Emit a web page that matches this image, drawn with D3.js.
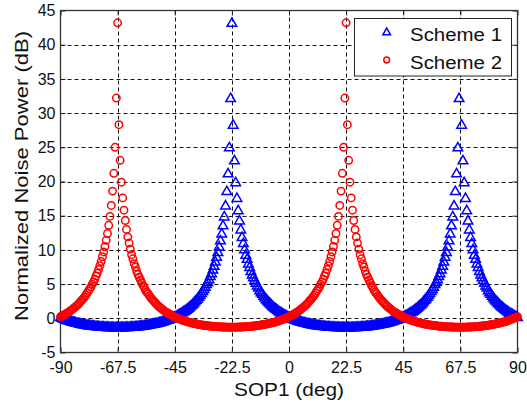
<!DOCTYPE html>
<html><head><meta charset="utf-8">
<script src="https://cdn.jsdelivr.net/npm/d3@7"></script>
<style>html,body{margin:0;padding:0;background:#fff;} svg{display:block;font-family:"Liberation Sans",Arial,sans-serif;}</style>
</head><body><svg id="c" width="527" height="405"></svg>
<script>
// SOP1 sample angles (deg): -90 .. 90, step 0.5
const sopDeg = d3.range(-180, 181).map(i => i / 2);
const xTicks = [-90, -67.5, -45, -22.5, 0, 22.5, 45, 67.5, 90];
const xTickLabels = ["-90", "-67.5", "-45", "-22.5", "0", "22.5", "45", "67.5", "90"];
const yTicks = [-5, 0, 5, 10, 15, 20, 25, 30, 35, 40, 45];
const seriesNames = ["Scheme 1", "Scheme 2"];

// Normalized noise power (dB), Scheme 1
const scheme1 = [
// -90 .. -68
0.19,0.10,0.02,-0.06,-0.13,-0.20,-0.27,-0.33,-0.39,-0.45,-0.50,-0.56,-0.61,-0.66,-0.70,-0.75,-0.79,-0.83,-0.87,-0.90,-0.93,-0.97,-1.00,-1.02,-1.05,-1.07,-1.09,-1.12,-1.14,-1.16,-1.17,-1.19,-1.21,-1.22,-1.23,-1.25,-1.26,-1.27,-1.27,-1.28,-1.29,-1.29,-1.30,-1.30,-1.30,
// -67.5 .. -23
-1.30,-1.30,-1.30,-1.30,-1.29,-1.29,-1.28,-1.27,-1.27,-1.26,
-1.25,-1.23,-1.22,-1.21,-1.19,-1.17,-1.16,-1.13,-1.11,-1.09,
-1.06,-1.04,-1.01,-0.98,-0.95,-0.91,-0.88,-0.85,-0.81,-0.77,
-0.73,-0.68,-0.64,-0.59,-0.54,-0.48,-0.43,-0.37,-0.30,-0.23,
-0.16,-0.10,-0.02,0.06,0.14,0.23,0.32,0.42,0.52,0.63,
0.75,0.87,0.99,1.12,1.26,1.40,1.56,1.72,1.89,2.05,
2.25,2.5,2.7,2.9,3.15,3.4,3.7,4.0,4.3,4.6,
5.0,5.3,5.7,6.2,6.6,7.15,7.7,8.3,9.0,9.7,
10.5,11.4,12.4,13.6,14.9,16.5,18.6,21.2,25.0,32.2,
// -22.5 .. 22
43.2,28.3,23.1,19.9,17.6,15.8,14.3,13.0,11.9,11.0,
10.1,9.3,8.7,8.0,7.5,6.9,6.4,6.0,5.6,5.2,
4.8,4.5,4.1,3.8,3.6,3.3,3.05,2.8,2.6,2.4,
2.2,2.0,1.8,1.65,1.5,1.35,1.2,1.05,0.93,0.81,
0.70,0.59,0.48,0.38,0.28,
0.19,0.10,0.02,-0.06,-0.13,-0.20,-0.27,-0.33,-0.39,-0.45,-0.50,-0.56,-0.61,-0.66,-0.70,-0.75,-0.79,-0.83,-0.87,-0.90,-0.93,-0.97,-1.00,-1.02,-1.05,-1.07,-1.09,-1.12,-1.14,-1.16,-1.17,-1.19,-1.21,-1.22,-1.23,-1.25,-1.26,-1.27,-1.27,-1.28,-1.29,-1.29,-1.30,-1.30,-1.30,
// 22.5 .. 67
-1.30,-1.30,-1.30,-1.30,-1.29,-1.29,-1.28,-1.27,-1.27,-1.26,
-1.25,-1.23,-1.22,-1.21,-1.19,-1.17,-1.16,-1.13,-1.11,-1.09,
-1.06,-1.04,-1.01,-0.98,-0.95,-0.91,-0.88,-0.85,-0.81,-0.77,
-0.73,-0.68,-0.64,-0.59,-0.54,-0.48,-0.43,-0.37,-0.30,-0.23,
-0.16,-0.10,-0.02,0.06,0.14,0.23,0.32,0.42,0.52,0.63,
0.75,0.87,0.99,1.12,1.26,1.40,1.56,1.72,1.89,2.05,
2.25,2.5,2.7,2.9,3.15,3.4,3.7,4.0,4.3,4.6,
5.0,5.3,5.7,6.2,6.6,7.15,7.7,8.3,9.0,9.7,
10.5,11.4,12.4,13.6,14.9,16.5,18.6,21.2,25.0,32.2,
// 67.5 (not shown)
null,
// 68 .. 90
28.3,23.1,19.9,17.6,15.8,14.3,13.0,11.9,11.0,
10.1,9.3,8.7,8.0,7.5,6.9,6.4,6.0,5.6,5.2,
4.8,4.5,4.1,3.8,3.6,3.3,3.05,2.8,2.6,2.4,
2.2,2.0,1.8,1.65,1.5,1.35,1.2,1.05,0.93,0.81,
0.70,0.59,0.48,0.38,0.28,0.19
];

// Normalized noise power (dB), Scheme 2
const scheme2 = [
// -90 .. -68
0.23,0.32,0.42,0.52,0.63,
0.75,0.87,0.99,1.12,1.26,1.40,1.56,1.72,1.89,2.05,
2.25,2.5,2.7,2.9,3.15,3.4,3.7,4.0,4.3,4.6,
5.0,5.3,5.7,6.2,6.6,7.15,7.7,8.3,9.0,9.7,
10.5,11.4,12.4,13.6,14.9,16.5,18.6,21.2,25.0,32.2,
// -67.5 .. -23
43.2,28.3,23.1,19.9,17.6,15.8,14.3,13.0,11.9,11.0,
10.1,9.3,8.7,8.0,7.5,6.9,6.4,6.0,5.6,5.2,
4.8,4.5,4.1,3.8,3.6,3.3,3.05,2.8,2.6,2.4,
2.2,2.0,1.8,1.65,1.5,1.35,1.2,1.05,0.93,0.81,
0.70,0.59,0.48,0.38,0.28,
0.19,0.10,0.02,-0.06,-0.13,-0.20,-0.27,-0.33,-0.39,-0.45,-0.50,-0.56,-0.61,-0.66,-0.70,-0.75,-0.79,-0.83,-0.87,-0.90,-0.93,-0.97,-1.00,-1.02,-1.05,-1.07,-1.09,-1.12,-1.14,-1.16,-1.17,-1.19,-1.21,-1.22,-1.23,-1.25,-1.26,-1.27,-1.27,-1.28,-1.29,-1.29,-1.30,-1.30,-1.30,
// -22.5 .. 22
-1.30,-1.30,-1.30,-1.30,-1.29,-1.29,-1.28,-1.27,-1.27,-1.26,
-1.25,-1.23,-1.22,-1.21,-1.19,-1.17,-1.16,-1.13,-1.11,-1.09,
-1.06,-1.04,-1.01,-0.98,-0.95,-0.91,-0.88,-0.85,-0.81,-0.77,
-0.73,-0.68,-0.64,-0.59,-0.54,-0.48,-0.43,-0.37,-0.30,-0.23,
-0.16,-0.10,-0.02,0.06,0.14,0.23,0.32,0.42,0.52,0.63,
0.75,0.87,0.99,1.12,1.26,1.40,1.56,1.72,1.89,2.05,
2.25,2.5,2.7,2.9,3.15,3.4,3.7,4.0,4.3,4.6,
5.0,5.3,5.7,6.2,6.6,7.15,7.7,8.3,9.0,9.7,
10.5,11.4,12.4,13.6,14.9,16.5,18.6,21.2,25.0,32.2,
// 22.5 .. 67
43.2,28.3,23.1,19.9,17.6,15.8,14.3,13.0,11.9,11.0,
10.1,9.3,8.7,8.0,7.5,6.9,6.4,6.0,5.6,5.2,
4.8,4.5,4.1,3.8,3.6,3.3,3.05,2.8,2.6,2.4,
2.2,2.0,1.8,1.65,1.5,1.35,1.2,1.05,0.93,0.81,
0.70,0.59,0.48,0.38,0.28,
0.19,0.10,0.02,-0.06,-0.13,-0.20,-0.27,-0.33,-0.39,-0.45,-0.50,-0.56,-0.61,-0.66,-0.70,-0.75,-0.79,-0.83,-0.87,-0.90,-0.93,-0.97,-1.00,-1.02,-1.05,-1.07,-1.09,-1.12,-1.14,-1.16,-1.17,-1.19,-1.21,-1.22,-1.23,-1.25,-1.26,-1.27,-1.27,-1.28,-1.29,-1.29,-1.30,-1.30,-1.30,
// 67.5 .. 90
-1.30,-1.30,-1.30,-1.30,-1.29,-1.29,-1.28,-1.27,-1.27,-1.26,
-1.25,-1.23,-1.22,-1.21,-1.19,-1.17,-1.16,-1.13,-1.11,-1.09,
-1.06,-1.04,-1.01,-0.98,-0.95,-0.91,-0.88,-0.85,-0.81,-0.77,
-0.73,-0.68,-0.64,-0.59,-0.54,-0.48,-0.43,-0.37,-0.30,-0.23,
-0.16,-0.10,-0.02,0.06,0.14,0.23
];

const W = 527, H = 405;
const plot = {left: 60.5, right: 517.5, top: 10.5, bottom: 352.5};
const x = d3.scaleLinear().domain([-90, 90]).range([plot.left, plot.right]);
const y = d3.scaleLinear().domain([-5, 45]).range([plot.bottom, plot.top]);
const px = v => Math.round(v) + 0.5;

const svg = d3.select("#c");
svg.append("rect").attr("width", W).attr("height", H).attr("fill", "#fff");

// grid
const grid = svg.append("g").attr("stroke", "#111").attr("stroke-width", 1).attr("stroke-dasharray", "4,3");
grid.selectAll("line.gx").data(xTicks.slice(1, -1)).join("line").attr("class", "gx")
  .attr("x1", d => px(x(d))).attr("x2", d => px(x(d))).attr("y1", plot.top).attr("y2", plot.bottom);
grid.selectAll("line.gy").data(yTicks.slice(1, -1)).join("line").attr("class", "gy")
  .attr("y1", d => px(y(d))).attr("y2", d => px(y(d))).attr("x1", plot.left).attr("x2", plot.right);

// axes
const fontTick = 16;
const xAxis = svg.append("g").attr("transform", `translate(0,${plot.bottom})`)
  .call(d3.axisBottom(x).tickValues(xTicks).tickFormat((d, i) => xTickLabels[i]).tickSize(-5).tickSizeOuter(0).tickPadding(9));
const xTop = svg.append("g").attr("transform", `translate(0,${plot.top})`)
  .call(d3.axisTop(x).tickValues(xTicks).tickFormat("").tickSize(-5).tickSizeOuter(0));
const yAxis = svg.append("g").attr("transform", `translate(${plot.left},0)`)
  .call(d3.axisLeft(y).tickValues(yTicks).tickFormat(d => String(d)).tickSize(-5).tickSizeOuter(0).tickPadding(5));
const yRight = svg.append("g").attr("transform", `translate(${plot.right},0)`)
  .call(d3.axisRight(y).tickValues(yTicks).tickFormat("").tickSize(-5).tickSizeOuter(0));
[xAxis, xTop, yAxis, yRight].forEach(g => {
  g.select(".domain").remove();
  g.selectAll("line").attr("stroke", "#222").attr("stroke-width", 1);
  g.selectAll("text").attr("fill", "#111").style("font-size", fontTick + "px").style("font-family", '"Liberation Sans", Arial, sans-serif');
});

// box
svg.append("rect").attr("x", plot.left).attr("y", plot.top)
  .attr("width", plot.right - plot.left).attr("height", plot.bottom - plot.top)
  .attr("fill", "none").attr("stroke", "#333").attr("stroke-width", 1.3);

// markers
const triPath = s => `M0,${-4.9*s}L${4.8*s},${3.5*s}L${-4.8*s},${3.5*s}Z`;
const pts1 = sopDeg.map((d, i) => ({x: d, y: scheme1[i]})).filter(d => d.y !== null && d.y !== undefined);
const pts2 = sopDeg.map((d, i) => ({x: d, y: scheme2[i]})).filter(d => d.y !== null && d.y !== undefined);

svg.append("g").selectAll("path").data(pts1).join("path")
  .attr("transform", d => `translate(${x(d.x)},${y(d.y)})`)
  .attr("d", triPath(1)).attr("fill", "none").attr("stroke", "#0000ff").attr("stroke-width", 1.5);

svg.append("g").selectAll("circle").data(pts2).join("circle")
  .attr("cx", d => x(d.x)).attr("cy", d => y(d.y)).attr("r", 3.7)
  .attr("fill", "none").attr("stroke", "#ff0000").attr("stroke-width", 1.5);

// legend
const lg = svg.append("g");
lg.append("rect").attr("x", 354.5).attr("y", 18.5).attr("width", 157).attr("height", 57.5)
  .attr("fill", "#fff").attr("stroke", "#222").attr("stroke-width", 1);
lg.append("path").attr("transform", "translate(386.7,32)").attr("d", triPath(0.8))
  .attr("fill", "none").attr("stroke", "#0000ff").attr("stroke-width", 1.5);
lg.append("circle").attr("cx", 386.7).attr("cy", 60).attr("r", 2.9)
  .attr("fill", "none").attr("stroke", "#ff0000").attr("stroke-width", 1.5);
lg.selectAll("text").data(seriesNames).join("text")
  .attr("x", 410).attr("y", (d, i) => 41 + i * 28)
  .attr("textLength", 92).attr("lengthAdjust", "spacingAndGlyphs")
  .style("font-size", "18px").attr("fill", "#111").text(d => d);

// axis titles
svg.append("text").attr("x", 289).attr("y", 396).attr("text-anchor", "middle")
  .attr("textLength", 110).attr("lengthAdjust", "spacingAndGlyphs")
  .style("font-size", "19px").attr("fill", "#111").text("SOP1 (deg)");
svg.append("text").attr("transform", "translate(28,176) rotate(-90)").attr("text-anchor", "middle")
  .attr("textLength", 290).attr("lengthAdjust", "spacingAndGlyphs")
  .style("font-size", "19px").attr("fill", "#111").text("Normalized Noise Power (dB)");
</script></body></html>
